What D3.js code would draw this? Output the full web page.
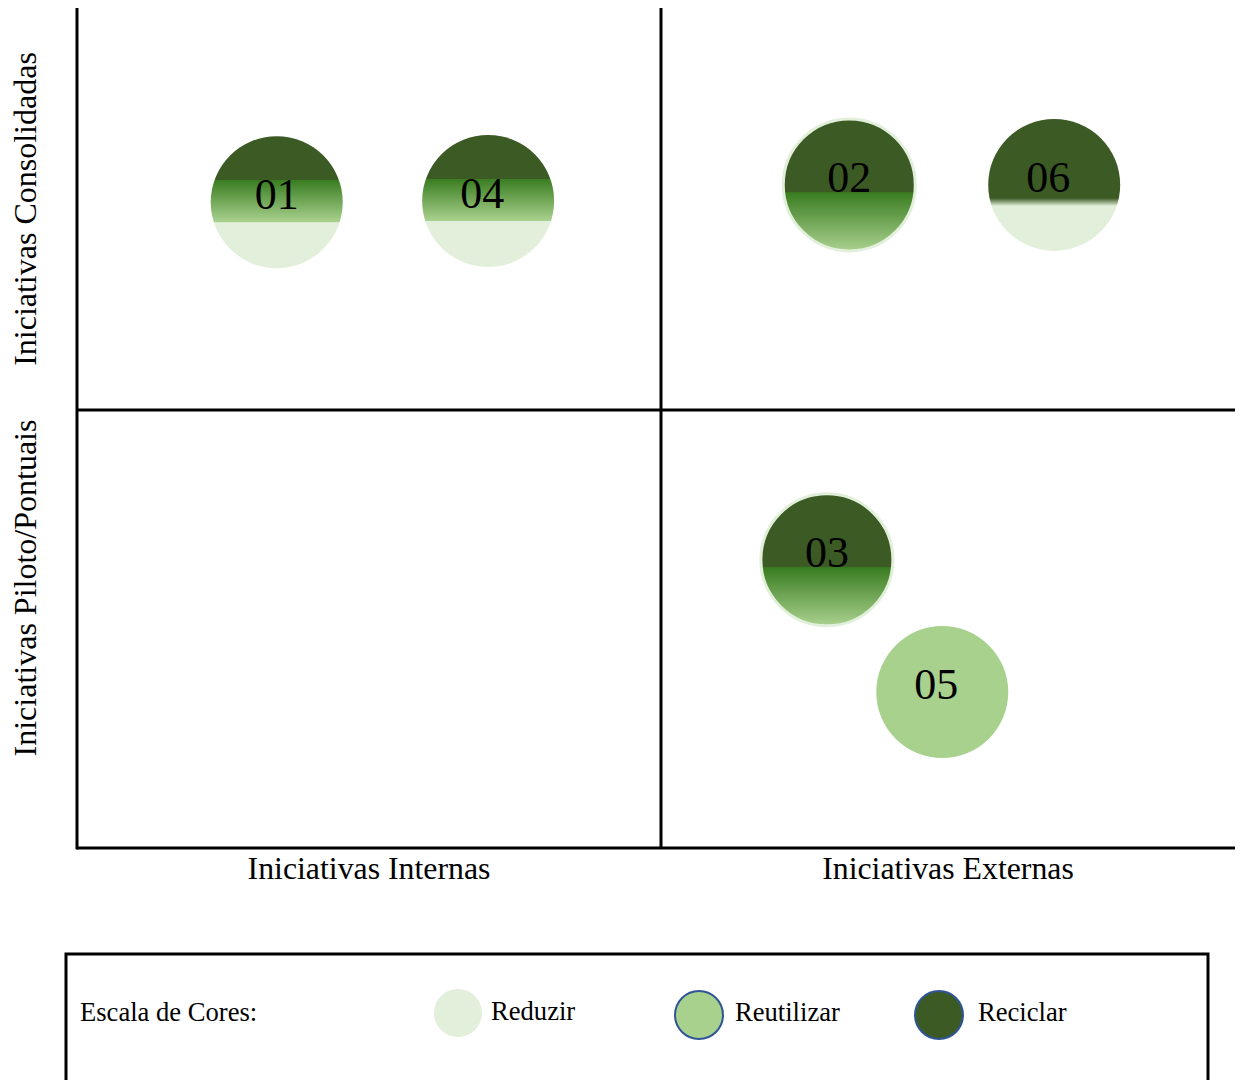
<!DOCTYPE html>
<html><head><meta charset="utf-8">
<script src="https://cdn.jsdelivr.net/npm/d3@7"></script>
<style>body{margin:0;background:#fff;} svg{display:block;font-family:"Liberation Serif","Times New Roman",serif;}</style>
</head><body>
<svg id="c" width="1240" height="1080"></svg>
<script>
// ---- data ----
const xCategories = ["Iniciativas Internas", "Iniciativas Externas"];
const yCategories = ["Iniciativas Piloto/Pontuais", "Iniciativas Consolidadas"];
const ids    = ["01", "02", "03", "04", "05", "06"];
const xVals  = [0.342, 1.328, 1.289, 0.704, 1.490, 1.685];
const yVals  = [1.517, 1.560, 0.658, 1.520, 0.356, 1.560];
const mixes  = ["recicla-reutiliza-reduz", "recicla-reutiliza", "recicla-reutiliza", "recicla-reutiliza-reduz", "reutiliza", "recicla-reduz"];
const legendLabels = ["Reduzir", "Reutilizar", "Reciclar"];
const legendTitle = "Escala de Cores:";

// ---- styles ----
const C = {reduz:"#e2efda", reut:"#a9d18e", recic:"#3b5a24", bright:"#3a7d21"};
const labelDx = [0, 0, 0, -6, -6, -6];
const svg = d3.select("#c");
const x = d3.scaleLinear().domain([0,1,2]).range([77,661,1235]);
const y = d3.scaleLinear().domain([0,1,2]).range([848,410,8]);

const defs = svg.append("defs");
const gradStops = {
  "recicla-reutiliza-reduz": [[0,C.recic],[0.33,C.recic],[0.335,C.bright],[0.65,C.reut],[0.655,C.reduz],[1,C.reduz]],
  "recicla-reutiliza": [[0,C.recic],[0.55,C.recic],[0.56,C.bright],[1,C.reut]],
  "recicla-reduz": [[0,C.recic],[0.6,C.recic],[0.66,C.reduz],[1,C.reduz]],
  "reutiliza": [[0,C.reut],[1,C.reut]]
};
Object.entries(gradStops).forEach(([k,stops])=>{
  const g = defs.append("linearGradient").attr("id","g-"+k).attr("x1",0).attr("y1",0).attr("x2",0).attr("y2",1);
  stops.forEach(s=>g.append("stop").attr("offset",s[0]).attr("stop-color",s[1]));
});

// quadrant lines
const lineG = svg.append("g").attr("stroke","#000").attr("stroke-width",3);
lineG.append("line").attr("x1",x(0)).attr("x2",x(0)).attr("y1",y(2)).attr("y2",y(0)+1.5);
lineG.append("line").attr("x1",x(1)).attr("x2",x(1)).attr("y1",y(2)).attr("y2",y(0));
lineG.append("line").attr("x1",x(0)).attr("x2",x(2)).attr("y1",y(0)).attr("y2",y(0));
lineG.append("line").attr("x1",x(0)).attr("x2",x(2)).attr("y1",y(1)).attr("y2",y(1));

// axis labels
svg.selectAll("text.xl").data(xCategories).join("text").attr("class","xl")
  .attr("x",(d,i)=>i===0?369:948).attr("y",879).attr("text-anchor","middle")
  .attr("font-size",31.8).text(d=>d);
svg.selectAll("text.yl").data(yCategories).join("text").attr("class","yl")
  .attr("transform",(d,i)=>`translate(36,${i===0?588:209}) rotate(-90)`)
  .attr("text-anchor","middle").attr("font-size",32).text(d=>d);

// bubbles
const pts = ids.map((id,i)=>({id, x:xVals[i], y:yVals[i], mix:mixes[i], dx:labelDx[i]}));
const bg = svg.selectAll("g.b").data(pts).join("g").attr("class","b")
  .attr("transform",d=>`translate(${x(d.x)},${y(d.y)})`);
bg.append("circle").attr("r",66).attr("fill",d=>`url(#g-${d.mix})`)
  .attr("stroke",d=>d.mix==="recicla-reutiliza"?C.reduz:"none").attr("stroke-width",3);
bg.append("text").attr("x",d=>d.dx).attr("y",7).attr("text-anchor","middle").attr("font-size",44).attr("fill","#000").text(d=>d.id);

// legend
const lg = svg.append("g");
lg.append("rect").attr("x",66).attr("y",954).attr("width",1142).attr("height",140)
  .attr("fill","none").attr("stroke","#000").attr("stroke-width",3);
lg.append("text").attr("x",80).attr("y",1021).attr("font-size",26.6).text(legendTitle);
const legX = [458, 699, 939];
const legFill = [C.reduz, C.reut, C.recic];
const li = lg.selectAll("g.li").data(legendLabels).join("g").attr("class","li")
  .attr("transform",(d,i)=>`translate(${legX[i]},${i===0?1013:1015})`);
li.append("circle").attr("r",24).attr("fill",(d,i)=>legFill[i])
  .attr("stroke",(d,i)=>i===0?"none":"#2f5597").attr("stroke-width",2);
li.append("text").attr("x",(d,i)=>i===2?39:i===1?36:33).attr("y",(d,i)=>i===0?7:6).attr("font-size",26.6).text(d=>d);
</script>
</body></html>
